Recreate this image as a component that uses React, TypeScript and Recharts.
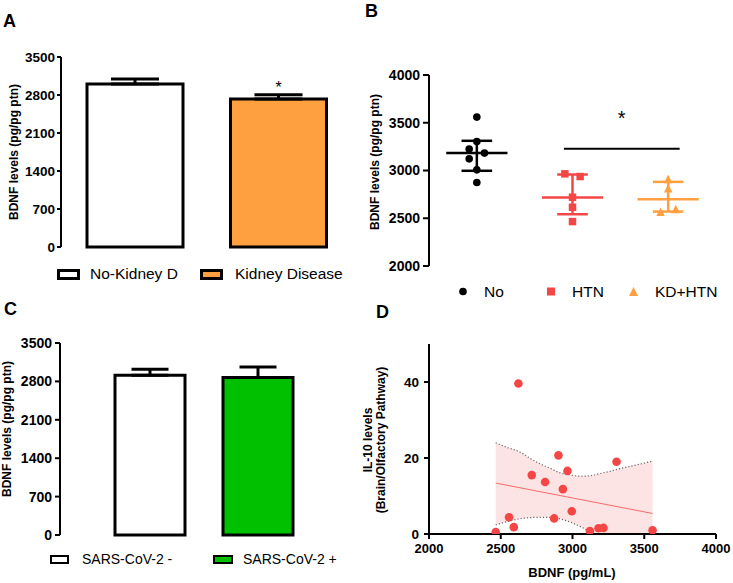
import {
  Area,
  Bar,
  BarChart,
  Cell,
  ComposedChart,
  ErrorBar,
  LabelList,
  Line,
  ReferenceLine,
  Scatter,
  ScatterChart,
  XAxis,
  YAxis,
} from "recharts";

const FONT = "'Liberation Sans', Arial, Helvetica, sans-serif";

// A: kidney disease bars
const kidneyGroups = ["No-Kidney D", "Kidney Disease"];
const kidneyMeans = [3003, 2726];
const kidneySem = [92, 80];
const kidneySig = ["", "*"];
const kidneyFills = ["#FFFFFF", "#FFA040"];

// C: SARS-CoV-2 bars
const covidGroups = ["SARS-CoV-2 -", "SARS-CoV-2 +"];
const covidMeans = [2912, 2870];
const covidSem = [109, 193];
const covidFills = ["#FFFFFF", "#00C000"];

const bdnfBarTicks = [0, 700, 1400, 2100, 2800, 3500];

// B: individual values per group (x = group index + jitter)
const htnGroups = ["No", "HTN", "KD+HTN"];
const htnColors = ["#000000", "#F54646", "#FFA040"];
const noValues = [3559, 3304, 3224, 3182, 3122, 3007, 2874];
const noJitter = [0, 0, -0.08, 0.08, -0.08, 0, 0];
const htnValues = [2965, 2937, 2720, 2615, 2465];
const htnJitter = [-0.08, 0.08, 0, 0, 0];
const kdValues = [2902, 2804, 2559, 2587];
const kdJitter = [0, 0, -0.08, 0.08];
const groupMean = [3182, 2717, 2699];
const groupUpper = [3311, 2958, 2881];
const groupLower = [2997, 2542, 2570];
const htnTicks = [2000, 2500, 3000, 3500, 4000];
const sigBar = { from: 0.91, to: 2.12, y: 3227 };

// D: BDNF vs IL-10 correlation
const corrX = [2465, 2623, 2558, 2591, 2716, 2809, 2872, 2902, 2933, 2965, 2995, 3121, 3181, 3216, 3307, 3558];
const corrY = [0.5, 39.6, 4.4, 1.8, 15.5, 13.7, 4.1, 20.7, 11.8, 16.6, 6.0, 0.8, 1.5, 1.6, 19.0, 1.0];
const bandX = [2465, 2550, 2633, 2700, 2772, 2850, 2912, 2980, 3051, 3121, 3160, 3191, 3260, 3330, 3450, 3558];
const bandHi = [24.0, 22.7, 21.6, 20.0, 18.5, 17.2, 16.1, 15.6, 15.2, 15.3, 15.6, 15.9, 16.5, 17.2, 18.2, 19.2];
const bandLo = [2.4, 3.3, 4.0, 4.3, 4.4, 4.4, 4.0, 3.2, 2.0, 0.7, 0, 0, 0, 0, 0, 0];
const fitX = [2465, 3558];
const fitY = [13.4, 5.4];
const corrXTicks = [2000, 2500, 3000, 3500, 4000];
const corrYTicks = [0, 20, 40];

const kidneyData = kidneyGroups.map((name, i) => ({
  name,
  mean: kidneyMeans[i],
  err: [0, kidneySem[i]],
  sig: kidneySig[i],
  fill: kidneyFills[i],
}));
const covidData = covidGroups.map((name, i) => ({
  name,
  mean: covidMeans[i],
  err: [0, covidSem[i]],
  fill: covidFills[i],
}));
const toPts = (vals: number[], jit: number[], g: number) => vals.map((y, i) => ({ x: g + jit[i], y }));
const noPts = toPts(noValues, noJitter, 0);
const htnPts = toPts(htnValues, htnJitter, 1);
const kdPts = toPts(kdValues, kdJitter, 2);
const corrPts = corrX.map((x, i) => ({ x, y: corrY[i] }));
const bandData = bandX.map((x, i) => ({
  x,
  band: [bandLo[i], bandHi[i]],
  hi: bandHi[i],
  // dotted lower limit stops once it is clipped at zero
  lo: i > 0 && bandLo[i - 1] === 0 ? null : bandLo[i],
}));
const fitData = fitX.map((x, i) => ({ x, y: fitY[i] }));

const AX = { stroke: "#000", strokeWidth: 2 };

function SideTitle({ px, py, lines, size, gap = 12 }: { px: number; py: number; lines: string[]; size: number; gap?: number }) {
  return (
    <g transform={`translate(${px},${py}) rotate(-90)`}>
      {lines.map((t, i) => (
        <text key={i} x={0} y={i * gap} textAnchor="middle" fontSize={size} fontWeight={700} fontFamily={FONT} fill="#000">
          {t}
        </text>
      ))}
    </g>
  );
}

function BottomTitle({ px, py, text, size }: { px: number; py: number; text: string; size: number }) {
  return (
    <text x={px} y={py} textAnchor="middle" fontSize={size} fontWeight={700} fontFamily={FONT} fill="#000">
      {text}
    </text>
  );
}

const circle = (color: string, r: number) => (p: any) => <circle cx={p.cx} cy={p.cy} r={r} fill={color} />;
const square = (color: string, s: number) => (p: any) => (
  <rect x={p.cx - s / 2} y={p.cy - s / 2} width={s} height={s} fill={color} />
);
const triangle = (color: string, s: number) => (p: any) => (
  <polygon
    points={`${p.cx},${p.cy - s * 0.6} ${p.cx - s / 2},${p.cy + s * 0.4} ${p.cx + s / 2},${p.cy + s * 0.4}`}
    fill={color}
  />
);

function PanelLetter({ x, y, text }: { x: number; y: number; text: string }) {
  return (
    <div style={{ position: "absolute", left: x, top: y, fontSize: 18, lineHeight: "18px", fontWeight: 700, fontFamily: FONT }}>
      {text}
    </div>
  );
}

function LegendText({ x, y, size, text }: { x: number; y: number; size: number; text: string }) {
  return (
    <div style={{ position: "absolute", left: x, top: y, fontSize: size, lineHeight: `${size}px`, fontFamily: FONT, whiteSpace: "nowrap" }}>
      {text}
    </div>
  );
}

function LegendBox({ x, y, w, h, b, fill }: { x: number; y: number; w: number; h: number; b: number; fill: string }) {
  return (
    <div
      style={{ position: "absolute", left: x, top: y, width: w, height: h, border: `${b}px solid #000`, background: fill, boxSizing: "border-box" }}
    />
  );
}

export default function App() {
  const tick13 = { fill: "#000", fontSize: 13.5, fontWeight: 700, fontFamily: FONT };
  const tick14 = { fill: "#000", fontSize: 14, fontWeight: 700, fontFamily: FONT };

  return (
    <div style={{ position: "absolute", left: 0, top: 0, width: 733, height: 583, background: "#fff", fontFamily: FONT, overflow: "hidden" }}>
      {/* A */}
      <div style={{ position: "absolute", left: 0, top: 0 }}>
        <BarChart width={360} height={290} data={kidneyData} margin={{ top: 57, right: 10, bottom: 43, left: 0 }}>
          <XAxis dataKey="name" hide padding={{ left: 2, right: 0 }} />
          <YAxis
            width={61}
            domain={[0, 3500]}
            ticks={bdnfBarTicks}
            interval={0}
            axisLine={AX}
            tickLine={AX}
            tickSize={4}
            tickMargin={2}
            tick={tick13}
            label={<SideTitle px={17.5} py={152} lines={["BDNF levels (pg/pg ptn)"]} size={12} />}
          />
          <Bar dataKey="mean" barSize={96} stroke="#000" strokeWidth={3} isAnimationActive={false}>
            {kidneyData.map((d, i) => (
              <Cell key={i} fill={d.fill} />
            ))}
            <ErrorBar dataKey="err" width={24} stroke="#000" strokeWidth={3} isAnimationActive={false} />
            <LabelList dataKey="sig" position="top" offset={6} fontSize={16} fill="#000" fontFamily={FONT} />
          </Bar>
        </BarChart>
      </div>

      {/* B */}
      <div style={{ position: "absolute", left: 360, top: 0 }}>
        <ScatterChart width={373} height={310} margin={{ top: 75, right: 17, bottom: 44, left: 0 }}>
          <XAxis type="number" dataKey="x" hide domain={[-0.5, 2.5]} allowDataOverflow />
          <YAxis
            type="number"
            dataKey="y"
            width={69}
            domain={[2000, 4000]}
            ticks={htnTicks}
            interval={0}
            allowDataOverflow
            axisLine={AX}
            tickLine={AX}
            tickSize={6}
            tickMargin={3}
            tick={tick14}
            label={<SideTitle px={19} py={162} lines={["BDNF levels (pg/pg ptn)"]} size={12} />}
          />
          {groupMean.map((m, g) => (
            <ReferenceLine
              key={`m${g}`}
              segment={[{ x: g - 0.32, y: m }, { x: g + 0.32, y: m }]}
              stroke={htnColors[g]}
              strokeWidth={2.5}
            />
          ))}
          {groupMean.map((_, g) => (
            <ReferenceLine
              key={`v${g}`}
              segment={[{ x: g, y: groupLower[g] }, { x: g, y: groupUpper[g] }]}
              stroke={htnColors[g]}
              strokeWidth={2.5}
            />
          ))}
          {groupMean.map((_, g) => (
            <ReferenceLine
              key={`u${g}`}
              segment={[{ x: g - 0.16, y: groupUpper[g] }, { x: g + 0.16, y: groupUpper[g] }]}
              stroke={htnColors[g]}
              strokeWidth={2.5}
            />
          ))}
          {groupMean.map((_, g) => (
            <ReferenceLine
              key={`l${g}`}
              segment={[{ x: g - 0.16, y: groupLower[g] }, { x: g + 0.16, y: groupLower[g] }]}
              stroke={htnColors[g]}
              strokeWidth={2.5}
            />
          ))}
          <ReferenceLine
            segment={[{ x: sigBar.from, y: sigBar.y }, { x: sigBar.to, y: sigBar.y }]}
            stroke="#000"
            strokeWidth={2}
            label={{ value: "*", position: "top", offset: 24, fontSize: 20, fill: "#000", fontFamily: FONT }}
          />
          <Scatter data={noPts} fill="#000" shape={circle("#000", 3.8)} isAnimationActive={false} />
          <Scatter data={htnPts} fill="#F54646" shape={square("#F54646", 7.5)} isAnimationActive={false} />
          <Scatter data={kdPts} fill="#FFA040" shape={triangle("#FFA040", 8.5)} isAnimationActive={false} />
        </ScatterChart>
      </div>

      {/* C */}
      <div style={{ position: "absolute", left: 0, top: 290 }}>
        <BarChart width={360} height={293} data={covidData} margin={{ top: 53, right: 12, bottom: 48, left: 0 }}>
          <XAxis dataKey="name" hide padding={{ left: 36, right: 36 }} />
          <YAxis
            width={60}
            domain={[0, 3500]}
            ticks={bdnfBarTicks}
            interval={0}
            axisLine={AX}
            tickLine={AX}
            tickSize={5}
            tickMargin={3}
            tick={tick14}
            label={<SideTitle px={11} py={139} lines={["BDNF levels (pg/pg ptn)"]} size={12} />}
          />
          <Bar dataKey="mean" barSize={70} stroke="#000" strokeWidth={3} isAnimationActive={false}>
            {covidData.map((d, i) => (
              <Cell key={i} fill={d.fill} />
            ))}
            <ErrorBar dataKey="err" width={18.5} stroke="#000" strokeWidth={3} isAnimationActive={false} />
          </Bar>
        </BarChart>
      </div>

      {/* D */}
      <div style={{ position: "absolute", left: 360, top: 290 }}>
        <ComposedChart width={373} height={293} margin={{ top: 54, right: 17, bottom: 19, left: 0 }}>
          <XAxis
            type="number"
            dataKey="x"
            domain={[2000, 4000]}
            ticks={corrXTicks}
            interval={0}
            allowDataOverflow
            height={30}
            axisLine={AX}
            tickLine={AX}
            tickSize={5}
            tickMargin={5}
            tick={{ fill: "#000", fontSize: 13, fontWeight: 700, fontFamily: FONT }}
            label={<BottomTitle px={212} py={287} text="BDNF (pg/mL)" size={13} />}
          />
          <YAxis
            type="number"
            width={69}
            domain={[0, 50]}
            ticks={corrYTicks}
            interval={0}
            allowDataOverflow
            axisLine={AX}
            tickLine={AX}
            tickSize={5}
            tickMargin={5}
            tick={{ fill: "#000", fontSize: 13.5, fontWeight: 700, fontFamily: FONT }}
            label={<SideTitle px={12} py={150} lines={["IL-10 levels", "(Brain/Olfactory Pathway)"]} size={12} gap={12.5} />}
          />
          <Area data={bandData} dataKey="band" type="monotone" fill="#FDE4E4" fillOpacity={1} stroke="none" isAnimationActive={false} />
          <Line data={bandData} dataKey="hi" type="monotone" stroke="#666" strokeWidth={1.2} strokeDasharray="1.2 2" dot={false} isAnimationActive={false} />
          <Line data={bandData} dataKey="lo" type="monotone" stroke="#666" strokeWidth={1.2} strokeDasharray="1.2 2" dot={false} connectNulls={false} isAnimationActive={false} />
          <Line data={fitData} dataKey="y" type="linear" stroke="#F76A6A" strokeWidth={1} dot={false} isAnimationActive={false} />
          <Scatter data={corrPts} dataKey="y" fill="#F54646" shape={circle("#F54646", 4.3)} isAnimationActive={false} />
        </ComposedChart>
      </div>

      {/* panel letters */}
      <PanelLetter x={3} y={12} text="A" />
      <PanelLetter x={365} y={2} text="B" />
      <PanelLetter x={4} y={300} text="C" />
      <PanelLetter x={376} y={303} text="D" />

      {/* legend A */}
      <LegendBox x={57} y={269} w={23} h={11} b={3} fill={kidneyFills[0]} />
      <LegendText x={90} y={266} size={15.5} text={kidneyGroups[0]} />
      <LegendBox x={200} y={269} w={23} h={11} b={3} fill={kidneyFills[1]} />
      <LegendText x={235} y={266} size={15.5} text={kidneyGroups[1]} />

      {/* legend B */}
      <svg style={{ position: "absolute", left: 0, top: 0 }} width={733} height={583} pointerEvents="none">
        <circle cx={463} cy={291.5} r={3.8} fill={htnColors[0]} />
        <rect x={547} y={287.5} width={8} height={8} fill={htnColors[1]} />
        <polygon points="633.5,287 629,296 638,296" fill={htnColors[2]} />
      </svg>
      <LegendText x={484} y={284} size={15.5} text={htnGroups[0]} />
      <LegendText x={572} y={284} size={15.5} text={htnGroups[1]} />
      <LegendText x={655} y={284} size={15.5} text={htnGroups[2]} />

      {/* legend C */}
      <LegendBox x={50} y={555} w={19} h={9} b={2.5} fill={covidFills[0]} />
      <LegendText x={82} y={552} size={14} text={covidGroups[0]} />
      <LegendBox x={213} y={555} w={20} h={9} b={2.5} fill={covidFills[1]} />
      <LegendText x={243} y={552} size={14} text={covidGroups[1]} />
    </div>
  );
}
